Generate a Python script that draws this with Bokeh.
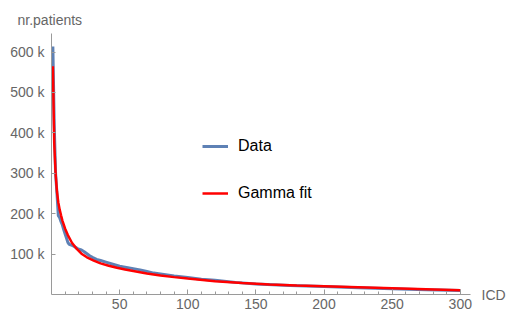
from bokeh.plotting import figure
from bokeh.models import Range1d, FixedTicker, LinearAxis
from bokeh.embed import file_html
from bokeh.resources import INLINE

# ---- data (values in thousands of patients) ----
data_x = [1, 2, 3, 4, 5, 6, 7, 8, 9, 10, 11, 12, 13, 14, 15, 16, 17, 18, 19, 20,
          22, 24, 26, 28, 30, 33, 36, 40, 45, 50, 55, 60, 65, 70, 75, 80, 90, 100,
          110, 120, 135, 150, 175, 200, 225, 250, 275, 300]
data_y = [614, 420, 300, 250, 195, 190, 180, 172, 160, 150, 140, 129, 124, 123, 122, 120, 118, 116, 114, 112,
          110, 106, 101, 96, 92, 87, 84, 80, 75, 70, 67, 64, 61, 57, 53, 51, 46, 42,
          38, 35, 30, 26, 22, 19.5, 17, 14.5, 12, 10]

fit_x = [1, 2, 3, 4, 5, 6, 7, 8, 10, 12, 15, 18, 22, 26, 31, 36, 42, 48, 54, 60,
         70, 80, 90, 100, 120, 140, 160, 180, 200, 225, 250, 275, 300]
fit_y = [565, 375, 300, 255, 228, 210, 196, 183, 163, 147, 128, 115, 101, 92, 84, 77, 71, 66, 62, 58,
         52, 47, 43, 39.5, 33, 28.5, 25, 22.5, 20.5, 18, 15.5, 13, 10.5]

x_ticks = [50, 100, 150, 200, 250, 300]
x_minor_ticks = [10, 20, 30, 40, 60, 70, 80, 90, 110, 120, 130, 140, 160, 170, 180, 190,
                 210, 220, 230, 240, 260, 270, 280, 290]
y_ticks = [100, 200, 300, 400, 500, 600]
y_tick_labels = ["100 k", "200 k", "300 k", "400 k", "500 k", "600 k"]
x_title = "ICD"
y_title = "nr.patients"

FONT = "Liberation Sans"
AXIS_COLOR = "#9a9a9a"
LABEL_COLOR = "#666666"

p = figure(width=508, height=314, output_backend="svg", toolbar_location=None,
           x_range=Range1d(0, 307.5), y_range=Range1d(0, 646),
           min_border_left=51, min_border_right=36, min_border_top=33, min_border_bottom=20,
           title=y_title)
p.outline_line_color = None
p.xgrid.visible = False
p.ygrid.visible = False
p.background_fill_color = "white"
p.border_fill_color = "white"

p.title.align = "left"
p.title.offset = -34
p.title.standoff = 11
p.title.text_font = FONT
p.title.text_font_size = "14px"
p.title.text_font_style = "normal"
p.title.text_color = LABEL_COLOR

p.line(data_x, data_y, line_color="#5E81B5", line_width=3, legend_label="Data")
p.line(fit_x, fit_y, line_color="#FF0000", line_width=2.5, legend_label="Gamma fit")

# axes
for ax in (p.xaxis[0], p.yaxis[0]):
    ax.axis_line_color = AXIS_COLOR
    ax.major_tick_line_color = AXIS_COLOR
    ax.minor_tick_line_color = AXIS_COLOR
    ax.major_label_text_color = LABEL_COLOR
    ax.major_label_text_font = FONT
    ax.major_label_text_font_size = "14px"
    ax.major_tick_out = 0
    ax.minor_tick_out = 0

p.xaxis.ticker = FixedTicker(ticks=x_ticks, minor_ticks=x_minor_ticks)
p.xaxis.major_tick_in = 5
p.xaxis.minor_tick_in = 3
p.xaxis.major_label_standoff = 4

p.yaxis.ticker = FixedTicker(ticks=y_ticks)
p.yaxis.major_label_overrides = {t: l for t, l in zip(y_ticks, y_tick_labels)}
p.yaxis.major_tick_in = 4
p.yaxis.minor_tick_line_color = None
p.yaxis.major_label_standoff = 7

# x-axis title "ICD" at the right end of the x axis, via a bare right-side axis
icd_axis = LinearAxis(ticker=FixedTicker(ticks=[0]), major_label_overrides={0: x_title},
                      axis_line_color=None, major_tick_line_color=None, minor_tick_line_color=None,
                      major_tick_in=0, major_tick_out=0, major_label_standoff=11,
                      major_label_text_font=FONT, major_label_text_font_size="14px",
                      major_label_text_color=LABEL_COLOR)
p.add_layout(icd_axis, "right")

# legend
lg = p.legend[0]
lg.location = (151, 89)
lg.border_line_color = None
lg.background_fill_alpha = 0
lg.padding = 0
lg.margin = 0
lg.spacing = 23
lg.glyph_width = 26
lg.glyph_height = 24
lg.label_height = 24
lg.label_standoff = 10
lg.label_text_font = FONT
lg.label_text_font_size = "16px"
lg.label_text_color = "#000000"

open("out.html", "w").write(file_html(p, INLINE))
